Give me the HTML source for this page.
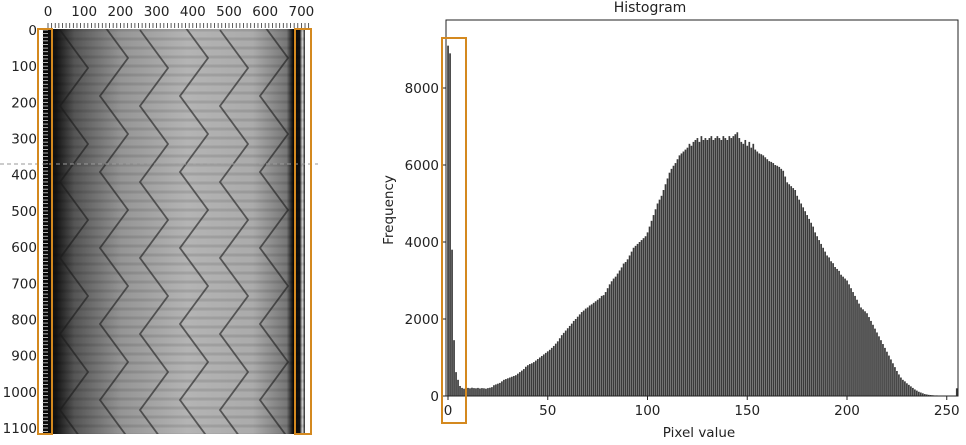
<!DOCTYPE html>
<html><head><meta charset="utf-8">
<style>
html,body{margin:0;padding:0;background:#fff;width:966px;height:445px;overflow:hidden}
svg{display:block;font-family:"DejaVu Sans","Liberation Sans",sans-serif}
</style></head>
<body>
<svg id="root" width="966" height="445" viewBox="0 0 966 445">
<defs>
<linearGradient id="imgGrad" x1="0" x2="1" y1="0" y2="0">
<stop offset="0" stop-color="#050505"/>
<stop offset="0.05" stop-color="#151515"/>
<stop offset="0.12" stop-color="#555"/>
<stop offset="0.3" stop-color="#959595"/>
<stop offset="0.55" stop-color="#b4b4b4"/>
<stop offset="0.8" stop-color="#ababab"/>
<stop offset="0.93" stop-color="#777"/>
<stop offset="0.955" stop-color="#0a0a0a"/>
<stop offset="0.98" stop-color="#111"/>
<stop offset="0.99" stop-color="#ddd"/>
<stop offset="1" stop-color="#222"/>
</linearGradient>
<clipPath id="imgClip"><rect x="43" y="29" width="262" height="405"/></clipPath>
</defs>
<g id="left-panel">
<rect x="43" y="29" width="262" height="405" fill="url(#imgGrad)"/>
<g id="chevrons" clip-path="url(#imgClip)"></g>
<g id="leftTicks"></g>
<line x1="0" y1="164" x2="318" y2="164" stroke="#999" stroke-dasharray="4,3" stroke-width="1"/>
<rect x="38" y="29" width="14" height="405" fill="none" stroke="#d4891f" stroke-width="2"/>
<rect x="295" y="29" width="16" height="405" fill="none" stroke="#d4891f" stroke-width="2"/>
</g>
<g id="hist">
<text x="650" y="12" text-anchor="middle" font-size="14" fill="#222">Histogram</text>
<g id="bars"></g>
<rect x="446" y="20" width="512" height="376" fill="none" stroke="#222" stroke-width="1"/>
<g id="hAxes"></g>
<text x="393" y="210" transform="rotate(-90 393 210)" text-anchor="middle" font-size="13.5" fill="#222">Frequency</text>
<text x="699" y="437" text-anchor="middle" font-size="13.5" fill="#222">Pixel value</text>
<rect x="442" y="38" width="24" height="385" fill="none" stroke="#d4891f" stroke-width="2"/>
</g>
</svg>
<script>
const counts = [
9100,8900,3800,1450,620,420,260,210,190,200,
210,200,215,205,200,210,195,205,200,190,
205,215,230,280,300,320,340,380,420,440,
460,480,500,520,540,580,620,660,700,760,
800,830,850,880,920,960,1000,1040,1080,1120,
1160,1200,1250,1300,1360,1420,1500,1580,1640,1700,
1760,1820,1880,1950,2000,2060,2120,2180,2220,2270,
2300,2350,2380,2420,2460,2500,2540,2600,2620,2700,
2800,2900,2980,3050,3100,3180,3260,3340,3440,3480,
3550,3650,3750,3850,3900,3950,4000,4050,4100,4150,
4250,4400,4550,4700,4850,5000,5100,5200,5350,5500,
5650,5800,5900,5980,6050,6150,6250,6300,6350,6400,
6450,6550,6500,6600,6650,6700,6600,6750,6650,6700,
6650,6700,6750,6650,6700,6750,6700,6650,6750,6700,
6650,6750,6700,6750,6800,6850,6700,6600,6550,6650,
6500,6600,6450,6550,6400,6350,6300,6280,6250,6200,
6150,6100,6080,6050,6000,5980,5950,5900,5850,5700,
5550,5500,5450,5400,5350,5200,5100,5000,4900,4800,
4700,4600,4500,4400,4250,4150,4050,3950,3850,3750,
3650,3600,3500,3450,3350,3300,3250,3150,3100,3050,
3000,2900,2800,2700,2600,2500,2400,2300,2250,2200,
2150,2050,1950,1850,1750,1650,1550,1450,1350,1250,
1150,1050,950,850,750,650,560,480,420,380,
330,290,250,210,170,140,110,90,70,50,
40,30,25,20,15,15,10,10,10,10,
10,10,10,10,10,200];
const xTicks = [0,50,100,150,200,250];
const yTicks = [0,2000,4000,6000,8000];
const imgXTicks = [0,100,200,300,400,500,600,700];
const imgYTicks = [0,100,200,300,400,500,600,700,800,900,1000,1100];

const NS = "http://www.w3.org/2000/svg";
function mk(tag, attrs, parent){const e=document.createElementNS(NS,tag);for(const k in attrs)e.setAttribute(k,attrs[k]);parent.appendChild(e);return e;}
const xS = v => 448 + v*1.995;
const yS = v => 396 - v*0.0385;

const bars = document.getElementById('bars');
counts.forEach((c,i)=>{
  const r = mk('rect',{x:xS(i)-0.8,y:yS(c),width:1.7,height:396-yS(c),fill:'#3a3a3a'},bars);
  
  
});
const hA = document.getElementById('hAxes');
xTicks.forEach(t=>{
  const l = mk('line',{x1:xS(t),x2:xS(t),y1:396,y2:400,stroke:'#222'},hA);
  
  
  const tx = mk('text',{x:xS(t),y:415,'text-anchor':'middle','font-size':13.5,fill:'#222'},hA);
  tx.textContent = t;
  
  
});
yTicks.forEach(t=>{
  const l = mk('line',{x1:442,x2:446,y1:yS(t),y2:yS(t),stroke:'#222'},hA);
  
  
  const tx = mk('text',{x:439,y:yS(t)+5,'text-anchor':'end','font-size':13.5,fill:'#222'},hA);
  tx.textContent = t;
  
  
});

const ix = v => 48 + v*0.362;
const iy = v => 30 + v*0.3618;
const lT = document.getElementById('leftTicks');
for(let v=0; v<=720; v+=10){
  const l = mk('line',{x1:ix(v),x2:ix(v),y1:23,y2:28,stroke:'#333','stroke-width':0.8},lT);
  
  
}
for(let v=0; v<=1110; v+=10){
  const l = mk('line',{x1:42,x2:48,y1:iy(v),y2:iy(v),stroke:'#ddd','stroke-width':0.8},lT);
  
  
}
imgXTicks.forEach(t=>{
  const tx = mk('text',{x:ix(t),y:16,'text-anchor':'middle','font-size':13.5,fill:'#222'},lT);
  tx.textContent = t;
  
  
});
imgYTicks.forEach(t=>{
  const tx = mk('text',{x:37,y:iy(t)+5,'text-anchor':'end','font-size':13.5,fill:'#222'},lT);
  tx.textContent = t;
  
  
});

const ch = document.getElementById('chevrons');
for(let y=30; y<440; y+=9){
  mk('line',{x1:43,x2:305,y1:y,y2:y,stroke:'#000','stroke-opacity':0.1,'stroke-width':3},ch);
}
[60,100,140,180,220,260].forEach((cx,k)=>{
  let pts=[];
  for(let j=0;j<12;j++){
    const y = 30 + j*38 - (k%2)*10;
    pts.push((j%2? cx+28 : cx)+','+y);
  }
  const p = mk('polyline',{points:pts.join(' '),fill:'none',stroke:'#1a1a1a','stroke-opacity':0.6,'stroke-width':1.8},ch);
  
  
});
</script>
</body></html>
